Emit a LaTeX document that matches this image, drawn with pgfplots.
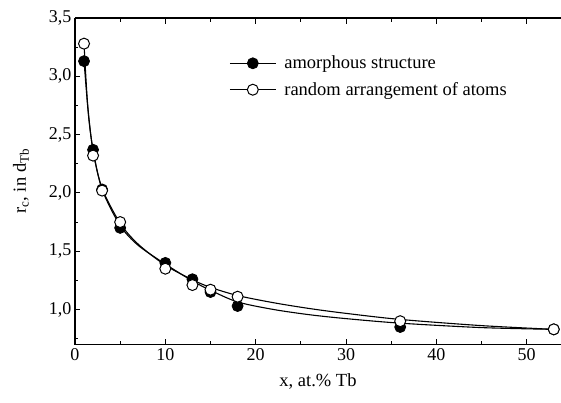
\documentclass[border=0pt]{standalone}
\usepackage{fontspec}
\setmainfont{Liberation Serif}
\usepackage{pgfplots}
\pgfplotsset{compat=1.18}
\begin{document}
\begin{tikzpicture}
\begin{axis}[
  scale only axis, width=486pt, height=326.5pt,
  xmin=0, xmax=53.8, ymin=0.7, ymax=3.5,
  axis x line*=box, axis y line*=left,
  axis line style={line width=1.1pt},
  xtick={0,10,...,50}, minor xtick={5,15,...,55},
  ytick={1.0,1.5,...,3.5}, minor ytick={0.75,1.25,...,3.25},
  tick align=inside, major tick length=5.5pt, minor tick length=3.5pt,
  every tick/.style={black, line width=0.9pt},
  /pgf/number format/assume math mode=true,
  yticklabel style={/pgf/number format/.cd, fixed, fixed zerofill, precision=1, use comma},
  ticklabel style={font=\fontsize{18}{21}\selectfont},
  xlabel={x, at.\% Tb}, ylabel={r\textsubscript{c}, in d\textsubscript{Tb}},
  label style={font=\fontsize{18.5}{22}\selectfont},
  xlabel style={yshift=-7pt}, ylabel style={yshift=13pt},
  legend style={at={(rel axis cs:0.317,0.89)}, anchor=north west, draw=none, fill=none,
    font=\fontsize{18.5}{22}\selectfont, inner sep=0pt, row sep=8pt,
    /tikz/every odd column/.append style={column sep=6pt}},
  legend cell align=left,
  legend image code/.code={\draw[black, line width=1.1pt] (0pt,0pt) -- (46pt,0pt); \draw[mark repeat=2,mark phase=2, draw=none] plot coordinates {(0pt,0pt) (23pt,0pt) (46pt,0pt)};},
  clip=false,
]
% fitted curves
\addplot[black, line width=1.1pt, smooth, forget plot] coordinates {
(1,3.13) (1.5,2.66) (2,2.37) (3,2.03) (5,1.72) (7,1.55) (10,1.39) (13,1.245) (15,1.165) (18,1.065) (22,1.0) (26,0.955) (30,0.922) (36,0.883) (45,0.845) (53,0.83)};
\addplot[black, line width=1.1pt, smooth, forget plot] coordinates {
(1,3.28) (1.4,2.76) (2,2.36) (3,2.04) (5,1.74) (7,1.56) (10,1.38) (13,1.255) (15,1.19) (18,1.12) (22,1.058) (26,1.008) (30,0.967) (36,0.915) (45,0.862) (53,0.83)};
% data points
\addplot[only marks, mark=*, mark size=5.5pt, mark options={draw=black, fill=black, line width=0.8pt}] coordinates {
(1,3.13) (2,2.37) (3,2.03) (5,1.70) (10,1.40) (13,1.26) (15,1.15) (18,1.03) (36,0.85) (53,0.83)};
\addlegendentry{amorphous structure}
\addplot[only marks, mark=*, mark size=5.5pt, mark options={draw=black, fill=white, line width=1pt}] coordinates {
(1,3.28) (2,2.32) (3,2.02) (5,1.75) (10,1.35) (13,1.21) (15,1.17) (18,1.11) (36,0.90) (53,0.83)};
\addlegendentry{random arrangement of atoms}
\end{axis}
\pgfresetboundingbox
\path (-75pt,-58pt) rectangle (486pt,344.5pt);
\end{tikzpicture}
\end{document}
